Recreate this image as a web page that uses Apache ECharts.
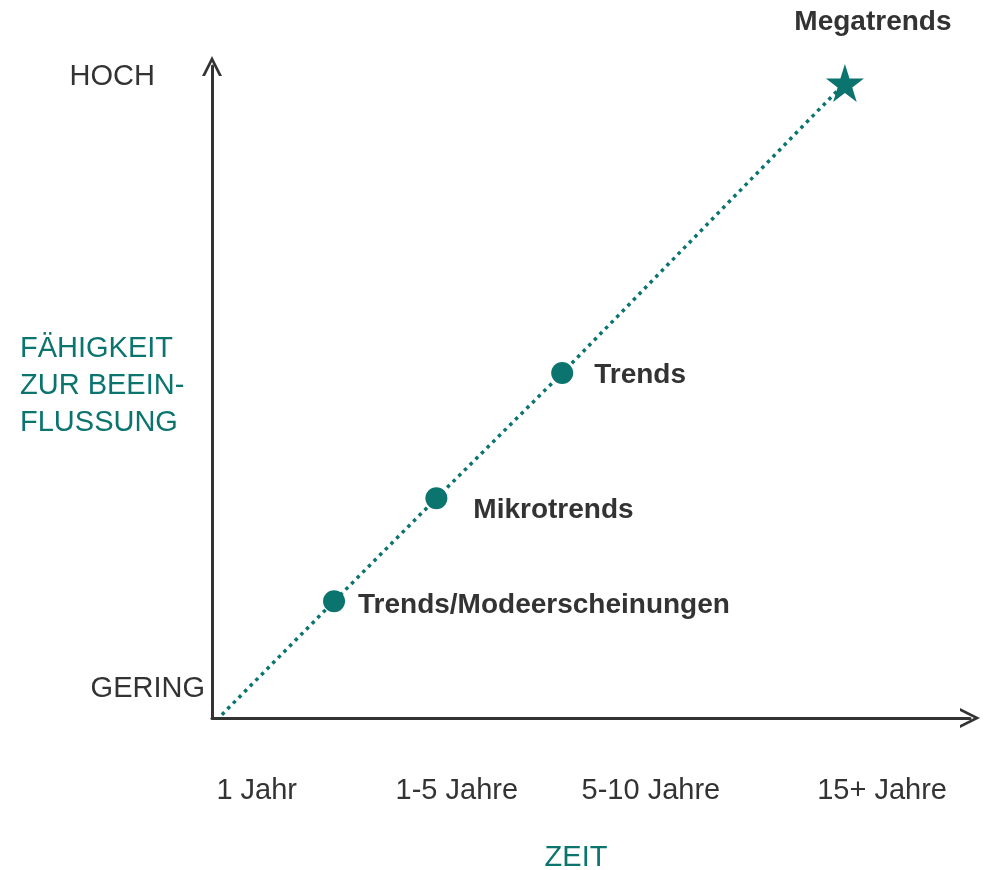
<!DOCTYPE html>
<html>
<head>
<meta charset="utf-8">
<title>Trends</title>
<script src="https://cdn.jsdelivr.net/npm/echarts@6/dist/echarts.min.js"></script>
<style>
  html, body { margin: 0; padding: 0; background: #fff; }
  #chart { width: 990px; height: 870px; }
</style>
</head>
<body>
<div id="chart"></div>
<script>
// Werte (Skala 0..100 auf beiden Achsen)
var trendNames = ['', 'Trends/Modeerscheinungen', 'Mikrotrends', 'Trends', 'Megatrends'];
var zeitValues = [1.3, 16.1, 29.6, 46.2, 83.5];
var einflussValues = [0.5, 17.9, 33.7, 52.9, 97.4];

var xTickValues = [5.9, 32.3, 57.9, 88.4];
var xTickLabels = ['1 Jahr', '1-5 Jahre', '5-10 Jahre', '15+ Jahre'];
var yTickValues = [4.4, 98.3];
var yTickLabels = ['GERING', 'HOCH'];
var yAxisTitle = 'FÄHIGKEIT\nZUR BEEIN-\nFLUSSUNG';

var TEAL = '#0b746f';
var DARK = '#333333';
var FONT = 'Liberation Sans';

// offene Pfeilspitze
var chevron = 'path://M0,100 L50,0 L100,100 L85,100 L50,30 L15,100 Z';
var star = 'path://M50,0 L61.8,35.5 L99,35.5 L68.9,57.5 L80.4,93 L50,71 L19.6,93 L31.1,57.5 L1,35.5 L38.2,35.5 Z';

// Label-Platzierung je Punkt
var labelOffsets = [[0, 0], [24, 4], [37, 12], [32, 2], [28, -61]];
var labelAligns = ['left', 'left', 'left', 'left', 'center'];

var chart = echarts.init(document.getElementById('chart'));

var pointData = trendNames.map(function (name, i) {
  var isOrigin = i === 0;
  var isStar = i === trendNames.length - 1;
  return {
    name: name,
    value: [zeitValues[i], einflussValues[i]],
    symbol: isOrigin ? 'none' : (isStar ? star : 'circle'),
    symbolSize: isStar ? 38 : 22,
    label: {
      show: !isOrigin,
      position: 'inside',
      align: labelAligns[i],
      verticalAlign: 'middle',
      offset: labelOffsets[i],
      formatter: '{b}',
      color: DARK,
      fontFamily: FONT,
      fontWeight: 'bold',
      fontSize: 28
    }
  };
});

chart.setOption({
  backgroundColor: '#ffffff',
  animation: false,
  // Achsentitel links (mehrzeilig)
  title: {
    text: yAxisTitle,
    left: 20,
    top: 330,
    padding: 0,
    textStyle: {
      color: TEAL, fontFamily: FONT, fontSize: 29, fontWeight: 'normal', lineHeight: 37
    }
  },
  grid: {
    left: 212, right: 20, top: 66, bottom: 152,
    containLabel: false,
    outerBoundsMode: 'none'
  },
  xAxis: {
    type: 'value',
    min: 0,
    max: 100,
    name: 'ZEIT',
    nameLocation: 'middle',
    nameGap: 140,
    nameTextStyle: {
      color: TEAL, fontFamily: FONT, fontSize: 29,
      verticalAlign: 'middle', padding: [0, 30, 0, 0]
    },
    axisLine: {
      show: true,
      symbol: ['none', chevron],
      symbolSize: [22, 20],
      lineStyle: { color: DARK, width: 3 }
    },
    axisTick: { show: false },
    splitLine: { show: false },
    axisLabel: {
      customValues: xTickValues,
      formatter: function (v) {
        var idx = xTickValues.indexOf(v);
        return idx >= 0 ? xTickLabels[idx] : '';
      },
      margin: 73,
      verticalAlign: 'middle',
      color: DARK,
      fontFamily: FONT,
      fontSize: 29
    }
  },
  yAxis: {
    type: 'value',
    min: 0,
    max: 100,
    axisLine: {
      show: true,
      symbol: ['none', chevron],
      symbolSize: [22, 20],
      lineStyle: { color: DARK, width: 3 }
    },
    axisTick: { show: false },
    splitLine: { show: false },
    axisLabel: {
      customValues: yTickValues,
      formatter: function (v) {
        var idx = yTickValues.indexOf(v);
        if (idx < 0) return '';
        return idx === 1 ? '{hoch|' + yTickLabels[idx] + '}' : yTickLabels[idx];
      },
      rich: {
        hoch: { color: DARK, fontFamily: FONT, fontSize: 29, padding: [0, 50, 0, 0] }
      },
      margin: 7,
      verticalAlign: 'middle',
      color: DARK,
      fontFamily: FONT,
      fontSize: 29
    }
  },
  series: [{
    type: 'line',
    data: pointData,
    lineStyle: { color: TEAL, width: 3.5, type: [3.5, 4.5] },
    itemStyle: { color: TEAL },
    z: 3
  }]
});
</script>
</body>
</html>
